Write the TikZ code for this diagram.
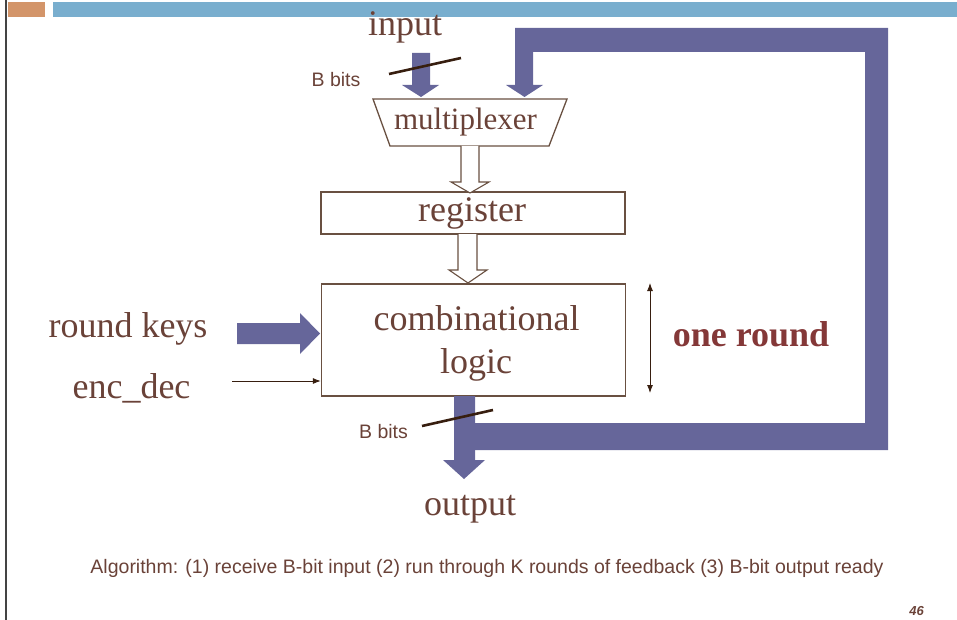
\documentclass[tikz,border=0pt]{standalone}
\usepackage{fontspec}
\setmainfont{Liberation Serif}
\setsansfont{Liberation Sans}
\usetikzlibrary{arrows.meta}
\definecolor{txtbrown}{RGB}{106,66,56}
\definecolor{pipe}{RGB}{102,102,154}
\definecolor{barblue}{RGB}{121,174,206}
\definecolor{barorange}{RGB}{211,149,106}
\definecolor{roundred}{RGB}{132,56,56}
\definecolor{edge}{RGB}{105,80,65}
\definecolor{slashc}{RGB}{55,30,15}
\definecolor{leftrule}{RGB}{68,68,68}
\begin{document}
\begin{tikzpicture}[x=1pt,y=-1pt,
  lbl/.style={inner sep=0pt, text=txtbrown, font=\fontsize{36}{40}\selectfont, anchor=base},
  small/.style={inner sep=0pt, text=txtbrown, font=\sffamily\fontsize{19.5}{22}\selectfont, anchor=base},
  blk/.style={draw=edge, line width=1.3pt, fill=white, inner sep=0pt},
  fat/.style={fill=pipe, draw=none},
  hollow/.style={draw=edge, line width=1.1pt, fill=white, line join=miter},
  slash/.style={draw=slashc, line width=2.6pt},
  thinarrow/.style={draw=slashc, line width=0.9pt, -{Latex[length=8pt,width=6pt]}},
  dblarrow/.style={draw=slashc, line width=0.9pt, {Latex[length=8pt,width=6pt]}-{Latex[length=8pt,width=6pt]}}
]
\useasboundingbox (0,0) rectangle (957,620);

% slide header and left rule
\fill[barorange] (8,2) rectangle (45,17);
\fill[barblue] (53,2) rectangle (957,17);
\draw[leftrule, line width=2pt] (6,0) -- (6,620);

% blocks
\draw[blk] (373,99) -- (567,99) -- (549,146) -- (390,146) -- cycle;
\coordinate (mux) at (470,122.5);
\node[blk, minimum width=304pt, minimum height=42pt] (reg) at (473,213) {};
\node[blk, minimum width=304pt, minimum height=112pt] (comb) at (473.5,340) {};

% hollow arrows between the blocks
\draw[hollow] (461,146) -- (461,182) -- (451,182) -- (470,193) -- (489,182) -- (479,182) -- (479,146);
\draw[hollow] (458,234) -- (458,270) -- (449,270) -- (468,283) -- (487,270) -- (477,270) -- (477,234);

% wide data paths
\fill[fat] (412,53) -- (430,53) -- (430,85) -- (439,85) -- (421,97) -- (402,85) -- (412,85) -- cycle;
\fill[fat] (475,423) -- (865,423) -- (865,52) -- (533,52) -- (533,85) -- (543,85) -- (524.5,97)
  -- (506,85) -- (515,85) -- (515,28) -- (888,28) -- (888,450) -- (475,450) -- cycle;
\fill[fat] (454,396) -- (475,396) -- (475,460) -- (485,460) -- (464,479) -- (443,460) -- (454,460) -- cycle;
\fill[fat] (237,323) -- (300,323) -- (300,313) -- (320,333.5) -- (300,354) -- (300,344) -- (237,344) -- cycle;

% bus width marks
\draw[slash] (389,74) -- (461,58);
\draw[slash] (422,426) -- (493,410);

% control input and round span
\coordinate (encsrc) at (232,381);
\draw[thinarrow] (encsrc) -- (comb.west |- encsrc);
\draw[dblarrow] (650,283) -- (650,393);

% labels
\node[lbl] (tin) at (405,36) {input};
\node[lbl, font=\fontsize{31}{36}\selectfont] (tmux) at (465.5,130) {multiplexer};
\node[lbl] (treg) at (472,222) {register};
\node[lbl] (tcomb) at (476.5,330) {combinational};
\node[lbl] (tlogic) at (476,373) {logic};
\node[lbl, text=roundred, font=\bfseries\fontsize{36}{40}\selectfont] (tround) at (751,346) {one round};
\node[lbl] (tkeys) at (128,337) {round keys};
\node[lbl] (tenc) at (131.5,398) {enc\_dec};
\node[lbl] (tout) at (470,515) {output};
\node[small] (bb1) at (336,87) {B bits};
\node[small] (bb2) at (383.5,438) {B bits};
\node[small] (alg) at (487,573) {Algorithm: (1) receive B-bit input (2) run through K rounds of feedback (3) B-bit output ready};
\node[inner sep=0pt, anchor=base, text=txtbrown, font=\sffamily\bfseries\itshape\fontsize{13}{15}\selectfont] (pg) at (916.5,615) {46};
\end{tikzpicture}
\end{document}
